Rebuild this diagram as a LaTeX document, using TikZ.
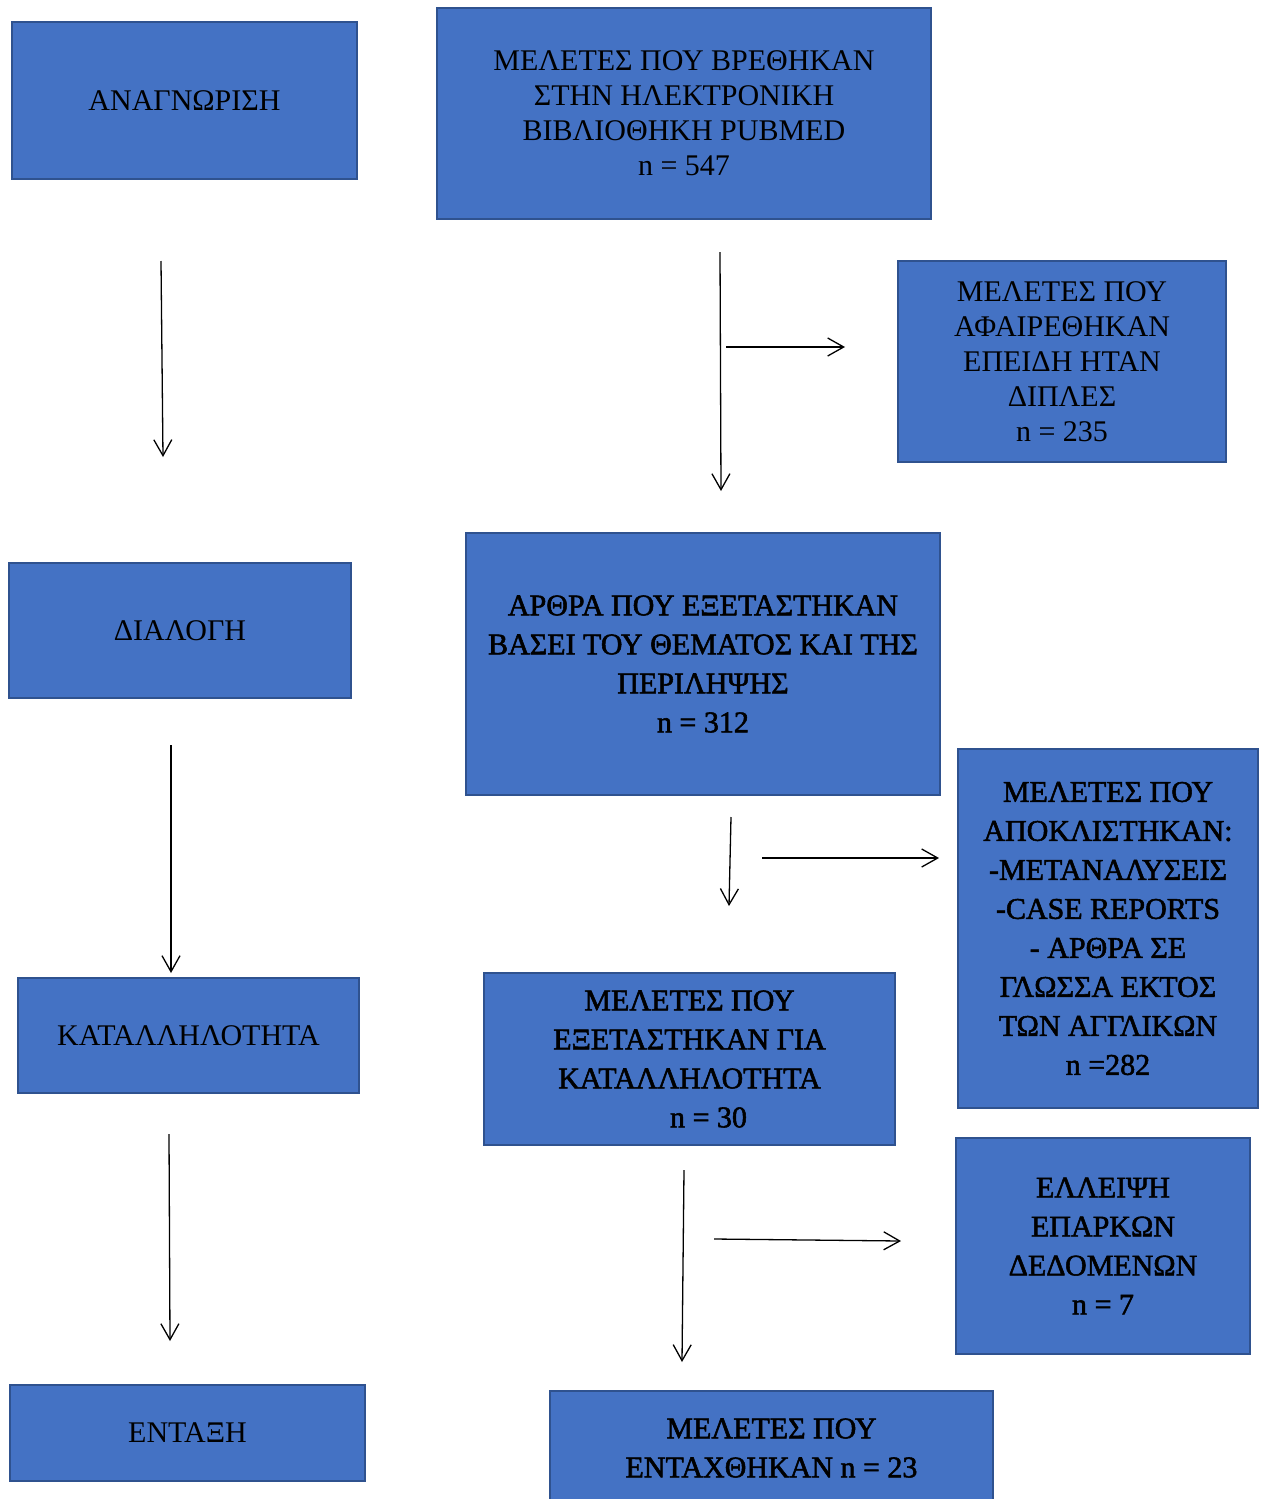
\documentclass[tikz,border=0pt]{standalone}
\usepackage{fontspec}
\setmainfont{Liberation Serif}
\newfontfamily\shadowfont[FakeBold=1.8]{Liberation Serif}
\usetikzlibrary{arrows.meta}
\definecolor{boxfill}{HTML}{4472C4}
\definecolor{boxline}{HTML}{2F528F}
\tikzset{
  box/.style={draw=boxline, fill=boxfill, line width=1pt, rectangle, inner sep=0pt, align=center, text=black,
    font=\fontsize{15pt}{17.5pt}\selectfont},
  sbox/.style={box, font=\shadowfont\fontsize{15pt}{19.5pt}\selectfont},
  flow/.style={draw=black, line width=0.65pt, -{Straight Barb[length=8pt,width=9pt,line width=0.65pt]}}
}
\begin{document}
\begin{tikzpicture}[x=0.5pt,y=-0.5pt]
\fill[white] (0,0) rectangle (1266,1499);
\useasboundingbox (0,0) rectangle (1266,1499);
% left column
\node[box, minimum width=172.5pt, minimum height=78.5pt] (anag) at (184.5,100.5) {ΑΝΑΓΝΩΡΙΣΗ};
\node[box, minimum width=171pt, minimum height=67.5pt] (dial) at (180,630.5) {ΔΙΑΛΟΓΗ};
\node[box, minimum width=170.5pt, minimum height=57.5pt] (katal) at (188.5,1035.5) {ΚΑΤΑΛΛΗΛΟΤΗΤΑ};
\node[box, minimum width=177.5pt, minimum height=48pt] (entaxi) at (187.5,1433) {ΕΝΤΑΞΗ};
% right column
\node[box, minimum width=247pt, minimum height=105.5pt] (found) at (684,113.5)
  {ΜΕΛΕΤΕΣ ΠΟΥ ΒΡΕΘΗΚΑΝ\\ΣΤΗΝ ΗΛΕΚΤΡΟΝΙΚΗ\\ΒΙΒΛΙΟΘΗΚΗ PUBMED\\n = 547};
\node[box, minimum width=164pt, minimum height=100.5pt] (dupl) at (1062,361.5)
  {ΜΕΛΕΤΕΣ ΠΟΥ\\ΑΦΑΙΡΕΘΗΚΑΝ\\ΕΠΕΙΔΗ ΗΤΑΝ\\ΔΙΠΛΕΣ\\n = 235};
\node[sbox, minimum width=237pt, minimum height=131pt] (screen) at (703,664)
  {ΑΡΘΡΑ ΠΟΥ ΕΞΕΤΑΣΤΗΚΑΝ\\ΒΑΣΕΙ ΤΟΥ ΘΕΜΑΤΟΣ ΚΑΙ ΤΗΣ\\ΠΕΡΙΛΗΨΗΣ\\n = 312};
\node[sbox, minimum width=150pt, minimum height=179.5pt] (excl) at (1108,928.5)
  {ΜΕΛΕΤΕΣ ΠΟΥ\\ΑΠΟΚΛΙΣΤΗΚΑΝ:\\-ΜΕΤΑΝΑΛΥΣΕΙΣ\\-CASE REPORTS\\- ΑΡΘΡΑ ΣΕ\\ΓΛΩΣΣΑ ΕΚΤΟΣ\\ΤΩΝ ΑΓΓΛΙΚΩΝ\\n =282};
\node[sbox, minimum width=205.5pt, minimum height=86pt] (elig) at (689.5,1059)
  {ΜΕΛΕΤΕΣ ΠΟΥ\\ΕΞΕΤΑΣΤΗΚΑΝ ΓΙΑ\\ΚΑΤΑΛΛΗΛΟΤΗΤΑ\\\hspace*{19pt}n = 30};
\node[sbox, minimum width=147pt, minimum height=108pt] (lack) at (1103,1246)
  {ΕΛΛΕΙΨΗ\\ΕΠΑΡΚΩΝ\\ΔΕΔΟΜΕΝΩΝ\\n = 7};
\node[sbox, minimum width=221.5pt, minimum height=57pt] (incl) at (771.5,1448)
  {ΜΕΛΕΤΕΣ ΠΟΥ\\ΕΝΤΑΧΘΗΚΑΝ n = 23};
% arrow end points
\coordinate (l1s) at (161,261);  \coordinate (l1e) at (163,457);
\coordinate (l2s) at (171,745);  \coordinate (l2e) at (171,973);
\coordinate (l3s) at (169,1134); \coordinate (l3e) at (170,1341);
\coordinate (r1s) at (720,252);  \coordinate (r1e) at (721,491);
\coordinate (b1s) at (726,347);  \coordinate (b1e) at (845,347);
\coordinate (r2s) at (731,817);  \coordinate (r2e) at (729,906);
\coordinate (b2s) at (762,858);  \coordinate (b2e) at (939,858);
\coordinate (r3s) at (684,1170); \coordinate (r3e) at (682,1362);
\coordinate (b3s) at (714,1239); \coordinate (b3e) at (901,1241);
\draw[flow] (l1s) -- (l1e);
\draw[flow] (l2s) -- (l2e);
\draw[flow] (l3s) -- (l3e);
\draw[flow] (r1s) -- (r1e);
\draw[flow] (b1s) -- (b1e);
\draw[flow] (r2s) -- (r2e);
\draw[flow] (b2s) -- (b2e);
\draw[flow] (r3s) -- (r3e);
\draw[flow] (b3s) -- (b3e);
\end{tikzpicture}
\end{document}
